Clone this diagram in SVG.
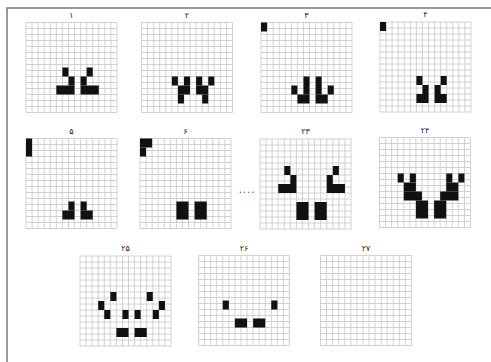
<svg xmlns="http://www.w3.org/2000/svg" xmlns:xlink="http://www.w3.org/1999/xlink" width="491" height="362" viewBox="0 0 491 362">
<style>
.grid{fill:none;stroke:#c6c6c6;stroke-width:0.8}
.c rect{fill:#111}
.lbl{font-family:"DejaVu Sans",sans-serif;font-size:8px;fill:#222;text-anchor:middle}
.dots{font-family:"DejaVu Sans",sans-serif;font-size:10px;fill:#555;text-anchor:middle;letter-spacing:1px}
</style>
<defs>
<path id="gridlines" class="grid" d="M0 0V90M6.07 0V90M12.13 0V90M18.2 0V90M24.27 0V90M30.33 0V90M36.4 0V90M42.47 0V90M48.53 0V90M54.6 0V90M60.67 0V90M66.73 0V90M72.8 0V90M78.87 0V90M84.93 0V90M91 0V90M0 0H91M0 6H91M0 12H91M0 18H91M0 24H91M0 30H91M0 36H91M0 42H91M0 48H91M0 54H91M0 60H91M0 66H91M0 72H91M0 78H91M0 84H91M0 90H91"/>
</defs>
<rect width="491" height="362" fill="#fff"/>
<path d="M7 362V8H491" fill="none" stroke="#7a7a7a" stroke-width="1.5"/>

<g id="gen1" transform="translate(26 22.5)">
<text class="lbl" x="45.5" y="-5">۱</text>
<use xlink:href="#gridlines"/>
<g class="c" transform="scale(6.0667 9)">
<rect x="6" y="5" width="1" height="1"/><rect x="7" y="6" width="1" height="1"/><rect x="5" y="7" width="3" height="1"/>
<rect x="10" y="5" width="1" height="1"/><rect x="9" y="6" width="1" height="1"/><rect x="9" y="7" width="3" height="1"/>
</g>
</g>

<g id="gen2" transform="translate(141.5 22.5)">
<text class="lbl" x="45.5" y="-5">۲</text>
<use xlink:href="#gridlines"/>
<g class="c" transform="scale(6.0667 9)">
<rect x="5" y="6" width="1" height="1"/><rect x="7" y="6" width="1" height="1"/><rect x="6" y="7" width="2" height="1"/><rect x="6" y="8" width="1" height="1"/>
<rect x="9" y="6" width="1" height="1"/><rect x="11" y="6" width="1" height="1"/><rect x="9" y="7" width="2" height="1"/><rect x="10" y="8" width="1" height="1"/>
</g>
</g>

<g id="gen3" transform="translate(261 22.5)">
<text class="lbl" x="45.5" y="-5">۳</text>
<use xlink:href="#gridlines"/>
<g class="c" transform="scale(6.0667 9)">
<rect x="0" y="0" width="1" height="1"/>
<rect x="7" y="6" width="1" height="2"/><rect x="5" y="7" width="1" height="1"/><rect x="6" y="8" width="2" height="1"/>
<rect x="9" y="6" width="1" height="2"/><rect x="11" y="7" width="1" height="1"/><rect x="9" y="8" width="2" height="1"/>
</g>
</g>

<g id="gen4" transform="translate(380 22)">
<text class="lbl" x="45.5" y="-5">۴</text>
<use xlink:href="#gridlines"/>
<g class="c" transform="scale(6.0667 9)">
<rect x="0" y="0" width="1" height="1"/>
<rect x="6" y="6" width="1" height="1"/><rect x="7" y="7" width="1" height="1"/><rect x="6" y="8" width="2" height="1"/>
<rect x="10" y="6" width="1" height="1"/><rect x="9" y="7" width="1" height="1"/><rect x="9" y="8" width="2" height="1"/>
</g>
</g>

<g id="gen5" transform="translate(26 138.5)">
<text class="lbl" x="45.5" y="-5">۵</text>
<use xlink:href="#gridlines"/>
<g class="c" transform="scale(6.0667 9)">
<rect x="0" y="0" width="1" height="2"/>
<rect x="7" y="7" width="1" height="1"/><rect x="6" y="8" width="2" height="1"/>
<rect x="9" y="7" width="1" height="1"/><rect x="9" y="8" width="2" height="1"/>
</g>
</g>

<g id="gen6" transform="translate(140 138.5)">
<text class="lbl" x="45.5" y="-5">۶</text>
<use xlink:href="#gridlines"/>
<g class="c" transform="scale(6.0667 9)">
<rect x="0" y="0" width="2" height="1"/><rect x="0" y="1" width="1" height="1"/>
<rect x="6" y="7" width="2" height="2"/><rect x="9" y="7" width="2" height="2"/>
</g>
</g>

<text id="ellipsis" class="dots" x="247" y="193">....</text>

<g id="gen23" transform="translate(260 139)">
<text class="lbl" x="45.5" y="-5">۲۳</text>
<use xlink:href="#gridlines"/>
<g class="c" transform="scale(6.0667 9)">
<rect x="4" y="3" width="1" height="1"/><rect x="5" y="4" width="1" height="1"/><rect x="3" y="5" width="3" height="1"/>
<rect x="12" y="3" width="1" height="1"/><rect x="11" y="4" width="1" height="1"/><rect x="11" y="5" width="3" height="1"/>
<rect x="6" y="7" width="2" height="2"/><rect x="9" y="7" width="2" height="2"/>
</g>
</g>

<g id="gen24" transform="translate(379.5 137.5)">
<text class="lbl" x="45.5" y="-5">۲۴</text>
<use xlink:href="#gridlines"/>
<g class="c" transform="scale(6.0667 9)">
<rect x="3" y="4" width="1" height="1"/><rect x="5" y="4" width="1" height="1"/><rect x="4" y="5" width="2" height="1"/><rect x="4" y="6" width="3" height="1"/><rect x="6" y="7" width="2" height="2"/>
<rect x="13" y="4" width="1" height="1"/><rect x="11" y="4" width="1" height="1"/><rect x="11" y="5" width="2" height="1"/><rect x="10" y="6" width="3" height="1"/><rect x="9" y="7" width="2" height="2"/>
</g>
</g>

<g id="gen25" transform="translate(80 256)">
<text class="lbl" x="45.5" y="-5">۲۵</text>
<use xlink:href="#gridlines"/>
<g class="c" transform="scale(6.0667 9)">
<rect x="5" y="4" width="1" height="1"/><rect x="3" y="5" width="1" height="1"/><rect x="4" y="6" width="1" height="1"/><rect x="7" y="6" width="1" height="1"/><rect x="6" y="8" width="2" height="1"/>
<rect x="11" y="4" width="1" height="1"/><rect x="13" y="5" width="1" height="1"/><rect x="12" y="6" width="1" height="1"/><rect x="9" y="6" width="1" height="1"/><rect x="9" y="8" width="2" height="1"/>
</g>
</g>

<g id="gen26" transform="translate(198.5 255.5)">
<text class="lbl" x="45.5" y="-5">۲۶</text>
<use xlink:href="#gridlines"/>
<g class="c" transform="scale(6.0667 9)">
<rect x="4" y="5" width="1" height="1"/><rect x="6" y="7" width="2" height="1"/>
<rect x="12" y="5" width="1" height="1"/><rect x="9" y="7" width="2" height="1"/>
</g>
</g>

<g id="gen27" transform="translate(320.5 255.5)">
<text class="lbl" x="45.5" y="-5">۲۷</text>
<use xlink:href="#gridlines"/>
</g>

<g id="connectors"/>
</svg>
